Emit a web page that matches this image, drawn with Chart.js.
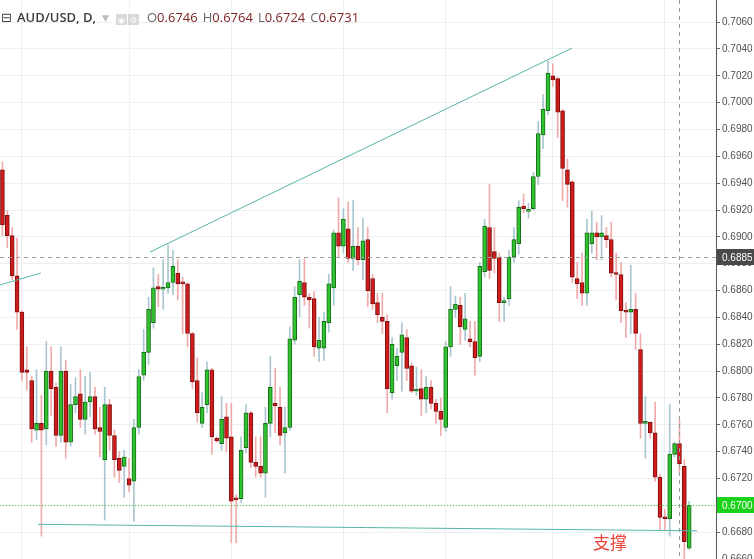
<!DOCTYPE html>
<html lang="zh">
<head>
<meta charset="UTF-8">
<title>AUD/USD, D</title>
<script src="https://cdn.jsdelivr.net/npm/chart.js"></script>
<style>
  html, body { margin: 0; padding: 0; background: #fff; }
  #wrap { position: relative; width: 754px; height: 559px; overflow: hidden; }
  #hdr { position: absolute; left: 1px; top: 8px; font-family: "Open Sans", "DejaVu Sans", sans-serif; font-size: 13px; color: #444; white-space: nowrap; }
  #hdr .sym { font-weight: 600; color: #3d3d3d; margin-left: 5px; }
  #hdr .caret { color: #bbb; font-size: 9px; margin: 0 7px 0 6px; vertical-align: 1px; }
  #hdr .btn { display: inline-block; width: 11px; height: 11px; background: #d9d9d9; color: #fff; font-size: 8px; line-height: 11px; text-align: center; vertical-align: -1px; margin-right: 1px; }
  #hdr .k { color: #666; margin-left: 5px; }
  #hdr .v { color: #7c2424; }
  #zh { position: absolute; left: 593px; top: 529px; font-family: "Noto Sans CJK SC", sans-serif; font-size: 17px; color: #e8453c; }
</style>
</head>
<body>
<div id="wrap">
  <canvas id="chart" width="754" height="559"></canvas>
  <div id="hdr"><span>⊟</span><span class="sym">AUD/USD, D,</span><span class="caret">▼</span><span class="btn">◉</span><span class="btn">⚙</span><span class="k" style="margin-left:7px">O</span><span class="v">0.6746</span><span class="k">H</span><span class="v">0.6764</span><span class="k">L</span><span class="v">0.6724</span><span class="k">C</span><span class="v">0.6731</span></div>
  <div id="zh">支撑</div>
</div>
<script>
// daily candles
const opens = [0.6950,0.6916,0.6901,0.6871,0.6844,0.6801,0.6793,0.6756,0.6761,0.6757,
  0.6800,0.6788,0.6752,0.6800,0.6747,0.6775,0.6783,0.6764,0.6777,0.6781,
  0.6758,0.6734,0.6775,0.6752,0.6735,0.6729,0.6720,0.6718,0.6758,0.6797,
  0.6814,0.6836,0.6863,0.6861,0.6862,0.6866,0.6873,0.6866,0.6865,0.6828,
  0.6793,0.6761,0.6775,0.6801,0.6750,0.6746,0.6766,0.6751,0.6705,0.6705,
  0.6743,0.6769,0.6732,0.6729,0.6724,0.6761,0.6776,0.6773,0.6754,0.6758,
  0.6823,0.6857,0.6866,0.6855,0.6854,0.6817,0.6817,0.6836,0.6862,0.6903,
  0.6893,0.6906,0.6884,0.6893,0.6883,0.6898,0.6869,0.6851,0.6840,0.6837,
  0.6784,0.6804,0.6814,0.6825,0.6804,0.6785,0.6787,0.6779,0.6788,0.6776,
  0.6770,0.6758,0.6818,0.6846,0.6849,0.6831,0.6824,0.6822,0.6811,0.6874,
  0.6907,0.6889,0.6885,0.6851,0.6854,0.6885,0.6895,0.6923,0.6919,0.6921,
  0.6945,0.6976,0.6994,0.7020,0.7018,0.6994,0.6950,0.6941,0.6869,0.6866,
  0.6858,0.6895,0.6903,0.6900,0.6901,0.6898,0.6873,0.6872,0.6845,0.6844,
  0.6846,0.6816,0.6761,0.6762,0.6754,0.6721,0.6691,0.6690,0.6738,0.6746,
  0.6729,0.6668];
const highs = [0.6956,0.6920,0.6907,0.6899,0.6845,0.6818,0.6796,0.6801,0.6782,0.6822,
  0.6818,0.6791,0.6818,0.6808,0.6790,0.6795,0.6801,0.6796,0.6799,0.6788,
  0.6773,0.6788,0.6779,0.6756,0.6740,0.6741,0.6735,0.6764,0.6801,0.6831,
  0.6855,0.6877,0.6872,0.6883,0.6894,0.6890,0.6883,0.6870,0.6866,0.6829,
  0.6810,0.6784,0.6807,0.6802,0.6751,0.6781,0.6776,0.6776,0.6708,0.6751,
  0.6775,0.6770,0.6751,0.6751,0.6773,0.6811,0.6802,0.6788,0.6773,0.6833,
  0.6863,0.6883,0.6884,0.6858,0.6859,0.6840,0.6844,0.6872,0.6905,0.6929,
  0.6921,0.6926,0.6927,0.6907,0.6914,0.6907,0.6872,0.6858,0.6858,0.6842,
  0.6825,0.6817,0.6836,0.6831,0.6806,0.6803,0.6801,0.6796,0.6793,0.6779,
  0.6780,0.6822,0.6863,0.6856,0.6855,0.6858,0.6837,0.6837,0.6881,0.6913,
  0.6939,0.6907,0.6888,0.6855,0.6890,0.6907,0.6927,0.6932,0.6925,0.6948,
  0.6986,0.7006,0.7031,0.7029,0.7019,0.6995,0.6958,0.6942,0.6881,0.6888,
  0.6913,0.6919,0.6911,0.6916,0.6907,0.6911,0.6888,0.6881,0.6851,0.6879,
  0.6858,0.6828,0.6781,0.6762,0.6777,0.6723,0.6697,0.6775,0.6747,0.6764,
  0.6734,0.6703];
const lows = [0.6901,0.6892,0.6868,0.6831,0.6793,0.6786,0.6747,0.6749,0.6677,0.6745,
  0.6767,0.6744,0.6747,0.6735,0.6744,0.6769,0.6758,0.6753,0.6766,0.6753,
  0.6736,0.6689,0.6741,0.6721,0.6717,0.6706,0.6710,0.6688,0.6753,0.6793,
  0.6805,0.6832,0.6848,0.6846,0.6858,0.6857,0.6853,0.6828,0.6818,0.6787,
  0.6762,0.6758,0.6769,0.6738,0.6747,0.6741,0.6740,0.6672,0.6672,0.6702,
  0.6739,0.6728,0.6721,0.6721,0.6706,0.6751,0.6754,0.6745,0.6724,0.6756,
  0.6820,0.6840,0.6849,0.6832,0.6811,0.6807,0.6808,0.6829,0.6849,0.6885,
  0.6888,0.6881,0.6875,0.6879,0.6868,0.6848,0.6846,0.6836,0.6828,0.6769,
  0.6779,0.6793,0.6785,0.6793,0.6784,0.6782,0.6767,0.6769,0.6772,0.6761,
  0.6752,0.6755,0.6811,0.6840,0.6820,0.6823,0.6818,0.6797,0.6807,0.6870,
  0.6869,0.6873,0.6837,0.6837,0.6849,0.6881,0.6887,0.6918,0.6914,0.6920,
  0.6939,0.6966,0.6991,0.7012,0.6974,0.6927,0.6922,0.6866,0.6854,0.6849,
  0.6849,0.6888,0.6883,0.6883,0.6892,0.6870,0.6853,0.6836,0.6825,0.6828,
  0.6816,0.6750,0.6735,0.6750,0.6718,0.6682,0.6682,0.6677,0.6736,0.6724,
  0.6659,0.6667];
const closes = [0.6909,0.6901,0.6871,0.6844,0.6799,0.6799,0.6757,0.6761,0.6756,0.6800,
  0.6787,0.6752,0.6800,0.6747,0.6775,0.6781,0.6764,0.6777,0.6781,0.6757,
  0.6755,0.6775,0.6752,0.6734,0.6726,0.6736,0.6715,0.6758,0.6796,0.6814,
  0.6846,0.6862,0.6861,0.6862,0.6866,0.6878,0.6865,0.6865,0.6828,0.6792,
  0.6769,0.6773,0.6801,0.6751,0.6748,0.6764,0.6750,0.6703,0.6704,0.6741,
  0.6769,0.6732,0.6729,0.6724,0.6761,0.6788,0.6774,0.6752,0.6758,0.6824,
  0.6855,0.6867,0.6855,0.6853,0.6818,0.6823,0.6837,0.6865,0.6903,0.6893,
  0.6913,0.6884,0.6893,0.6883,0.6897,0.6860,0.6850,0.6842,0.6837,0.6787,
  0.6820,0.6811,0.6827,0.6802,0.6785,0.6786,0.6779,0.6788,0.6776,0.6770,
  0.6764,0.6818,0.6846,0.6850,0.6833,0.6839,0.6822,0.6810,0.6878,0.6908,
  0.6875,0.6884,0.6851,0.6852,0.6885,0.6898,0.6922,0.6921,0.6920,0.6945,
  0.6977,0.6995,0.7022,0.7017,0.6993,0.6951,0.6939,0.6870,0.6865,0.6858,
  0.6903,0.6903,0.6900,0.6903,0.6898,0.6873,0.6872,0.6845,0.6844,0.6846,
  0.6828,0.6761,0.6762,0.6754,0.6721,0.6691,0.6690,0.6738,0.6746,0.6731,
  0.6673,0.6700];

const emptySlots = 5;                       // blank days right of the last candle
const monthStarts = [4, 26, 47, 70, 91, 113, 136];
const crosshairIndex = 139;
const levelLines = [0.6885, 0.6700];
// trend lines: [startIndex, startPrice, endIndex, endPrice]
const trendLines = [
  [30.3, 0.68887, 116.9, 0.70406],
  [-0.5, 0.68642, 7.9, 0.68731],
  [7.3, 0.66858, 142.6, 0.66810]
];

const categories = opens.map((_, i) => String(i + 1));
for (let i = 0; i < emptySlots; i++) categories.push('');

const up = opens.map((o, i) => closes[i] >= o);
const bodyFill = up.map(u => u ? '#2fc22f' : '#cf1b1b');
const bodyEdge = up.map(u => u ? '#186d18' : '#7d1010');
const wickColor = up.map(u => u ? '#a9c6d0' : '#f0aaaa');

const axisFont = '10px "Liberation Sans", Arial, sans-serif';

const overlay = {
  id: 'overlay',
  afterDatasetsDraw(chart) {
    const { ctx, chartArea: a, scales: { x, y } } = chart;
    ctx.save();
    ctx.beginPath(); ctx.rect(a.left, a.top, a.right - a.left, a.bottom - a.top); ctx.clip();
    // level lines
    let py = Math.round(y.getPixelForValue(levelLines[0])) + 0.5;
    ctx.strokeStyle = '#a0a0a0'; ctx.lineWidth = 1; ctx.setLineDash([4, 4]);
    ctx.beginPath(); ctx.moveTo(a.left, py); ctx.lineTo(a.right, py); ctx.stroke();
    py = Math.round(y.getPixelForValue(levelLines[1])) + 0.5;
    ctx.strokeStyle = '#3ad33a'; ctx.setLineDash([1, 2]);
    ctx.beginPath(); ctx.moveTo(a.left, py); ctx.lineTo(a.right, py); ctx.stroke();
    // crosshair
    const px = Math.round(x.getPixelForValue(crosshairIndex)) + 0.5;
    ctx.strokeStyle = '#9a9a9a'; ctx.setLineDash([4, 4]);
    ctx.beginPath(); ctx.moveTo(px, a.top); ctx.lineTo(px, a.bottom); ctx.stroke();
    // trend lines
    ctx.setLineDash([]);
    ctx.strokeStyle = '#55b5a8';
    trendLines.forEach(t => {
      ctx.beginPath();
      ctx.moveTo(x.getPixelForValue(t[0]), y.getPixelForValue(t[1]));
      ctx.lineTo(x.getPixelForValue(t[2]), y.getPixelForValue(t[3]));
      ctx.stroke();
    });
    ctx.restore();
  },
  afterDraw(chart) {
    const { ctx, chartArea: a, scales: { y } } = chart;
    ctx.save();
    ctx.font = axisFont;
    ctx.textBaseline = 'middle';
    [[levelLines[0], '#4a4a4a'], [levelLines[1], '#19d219']].forEach(([v, bg]) => {
      const py = Math.round(y.getPixelForValue(v));
      ctx.fillStyle = bg;
      ctx.fillRect(a.right + 1, py - 8, 40, 16);
      ctx.fillStyle = '#fff';
      ctx.fillText(v.toFixed(4), a.right + 6, py + 1);
    });
    ctx.restore();
  }
};

new Chart(document.getElementById('chart'), {
  type: 'bar',
  data: {
    labels: categories,
    datasets: [{
      label: 'body',
      data: opens.map((o, i) => [o, closes[i]]),
      backgroundColor: bodyFill,
      borderColor: bodyEdge,
      borderWidth: 1,
      borderSkipped: false,
      barThickness: 4,
      minBarLength: 2,
      grouped: false,
      order: 1
    }, {
      label: 'wick',
      data: lows.map((l, i) => [l, highs[i]]),
      backgroundColor: wickColor,
      borderWidth: 0,
      barThickness: 1,
      grouped: false,
      order: 2
    }]
  },
  options: {
    responsive: false,
    animation: false,
    layout: { padding: 0 },
    plugins: { legend: { display: false }, tooltip: { enabled: false } },
    scales: {
      x: {
        offset: true,
        border: { display: false },
        grid: {
          offset: false,
          drawTicks: false,
          color: c => monthStarts.includes(c.index) ? '#edf0f3' : 'rgba(0,0,0,0)'
        },
        ticks: { display: false, autoSkip: false },
        afterFit: s => { s.height = 0; s.paddingLeft = 0; s.paddingRight = 0; }
      },
      y: {
        position: 'right',
        min: 0.6660,
        max: 0.70765,
        border: { display: true, color: '#555' },
        grid: { color: '#edf0f3', tickLength: 4, tickColor: '#666' },
        ticks: {
          stepSize: 0.002,
          includeBounds: false,
          padding: 2,
          color: '#505050',
          font: { size: 10, family: '"Liberation Sans", Arial, sans-serif' },
          callback: v => v.toFixed(4)
        },
        afterFit: s => { s.width = 38; s.paddingTop = 0; s.paddingBottom = 0; }
      }
    }
  },
  plugins: [overlay]
});
</script>
</body>
</html>
